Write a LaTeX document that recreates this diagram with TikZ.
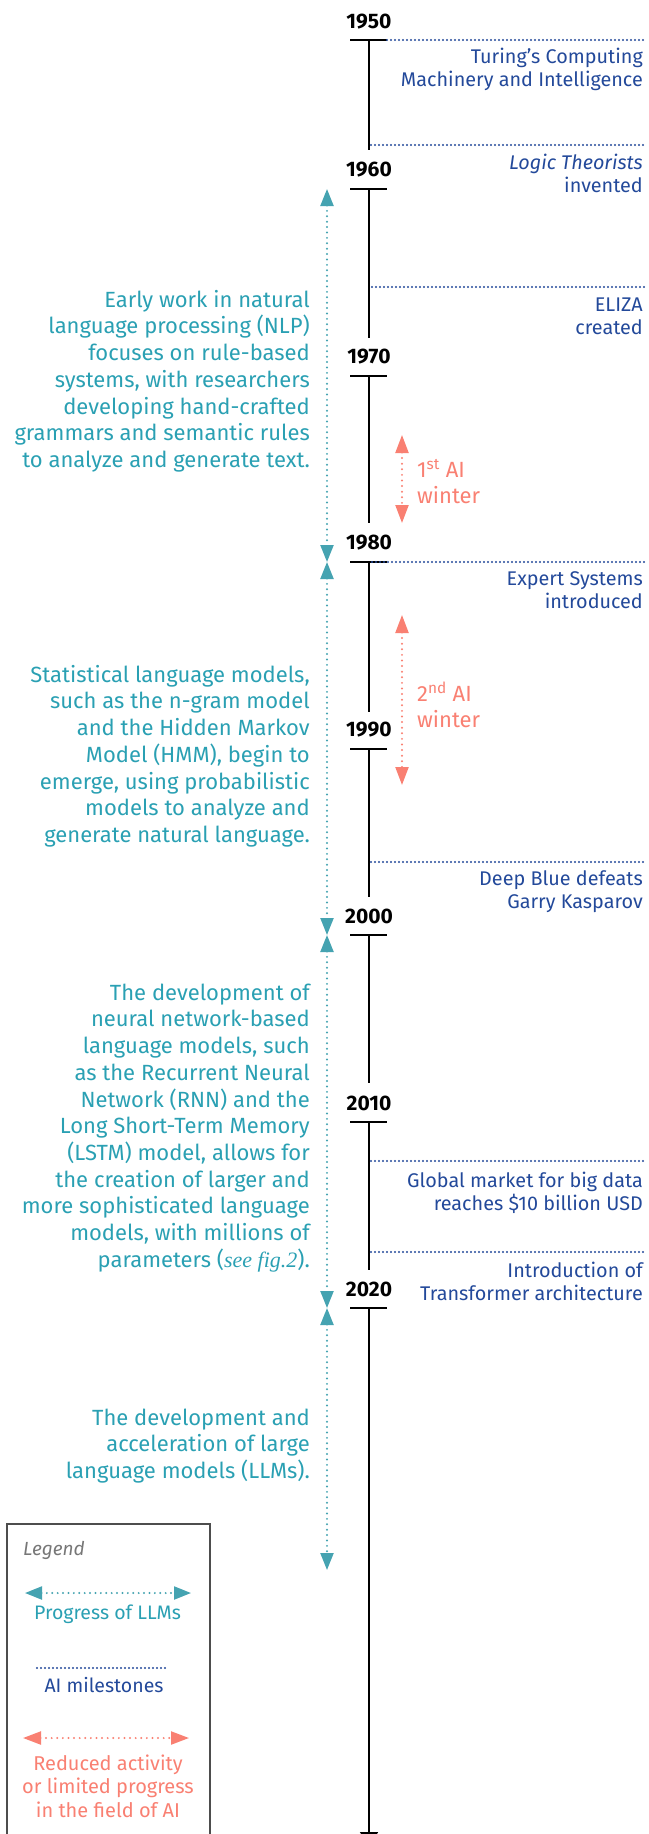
\documentclass[tikz,border=0pt]{standalone}
\usepackage{fontspec}
\setmainfont{Fira Sans}
\newfontfamily\figserif{Liberation Serif}
\usetikzlibrary{arrows.meta}
\definecolor{tealtxt}{HTML}{2AA0B3}
\definecolor{tealarr}{HTML}{45A3B1}
\definecolor{mileblue}{HTML}{23499A}
\definecolor{winterred}{HTML}{F98072}
\definecolor{leggray}{HTML}{777777}
\definecolor{boxgray}{HTML}{4D4D4D}
\begin{document}
\begin{tikzpicture}[x=1pt,y=-1pt,
  yearlbl/.style={font=\fontsize{21}{24}\selectfont\bfseries, inner sep=0pt, anchor=center},
  axisline/.style={line width=1.8pt, draw=black},
  tickline/.style={line width=1.5pt, draw=black},
  milestone/.style={draw=mileblue, line width=2.2pt, line cap=round, dash pattern=on 0pt off 4pt},
  miletxt/.style={text=mileblue, font=\fontsize{19.8}{23.5}\selectfont, align=right, anchor=north east, inner sep=0pt, yshift=16.45pt},
  progress/.style={draw=tealarr, line width=2.2pt, line cap=round, dash pattern=on 0pt off 5.4pt, >={Triangle[length=17pt,width=13pt]}, <->},
  progtxt/.style={text=tealtxt, font=\fontsize{22}{26.7}\selectfont, align=right, anchor=north east, inner sep=0pt, yshift=18.69pt},
  winterarr/.style={draw=winterred, line width=2.2pt, line cap=round, dash pattern=on 0pt off 5.6pt, >={Triangle[length=18pt,width=13pt]}, <->},
  wintertxt/.style={text=winterred, font=\fontsize{22}{26}\selectfont, align=left, anchor=north west, inner sep=0pt, yshift=18.2pt},
  legtxt/.style={font=\fontsize{19.5}{23.5}\selectfont, inner sep=0pt},
]
\useasboundingbox (0,0) rectangle (648,1834);

% ---- year labels and ticks
\foreach \yr/\ty/\cy in {1950/40/22, 1960/189/169.5, 1970/376/357, 1980/562/542.5, 1990/749/730, 2000/935/916, 2010/1122/1103.5, 2020/1308/1289}{
  \node[yearlbl] (y\yr) at (369,\cy) {\yr};
  \coordinate (tl\yr) at (350,\ty);
  \coordinate (tr\yr) at (387,\ty);
  \draw[tickline] (tl\yr) -- (tr\yr);
}

% ---- axis segments
\foreach \a/\b in {40/150, 189/338, 376/523, 562/712, 749/897, 935/1083, 1122/1270}{
  \coordinate (as\a) at (369,\a);
  \coordinate (ae\a) at (369,\b);
  \draw[axisline] (as\a) -- (ae\a);
}
\coordinate (as1308) at (369,1308);
\coordinate (axisend) at (369,1846);
\draw[axisline, -{Triangle[length=14pt,width=18pt]}] (as1308) -- (axisend);

% ---- milestones
\foreach \nm/\x/\yy in {turing/387/40, logic/371/145, eliza/372/287, expert/372/562, deepblue/371/862, bigdata/371/1161, transformer/371/1252}{
  \coordinate (ms\nm) at (\x,\yy);
  \coordinate (me\nm) at (645,\yy);
  \draw[milestone] (ms\nm) -- (me\nm);
}
\node[miletxt] (tturing) at (643,63) {\strut Turing’s Computing\\Machinery and Intelligence};
\node[miletxt] (tlogic) at (643,169) {\strut\itshape Logic Theorists\\invented};
\node[miletxt] (teliza) at (643,311) {\strut ELIZA\\created};
\node[miletxt] (texpert) at (643,585) {\strut Expert Systems\\introduced};
\node[miletxt] (tdeepblue) at (643,885) {\strut Deep Blue defeats\\Garry Kasparov};
\node[miletxt] (tbigdata) at (643,1187) {\strut Global market for big data\\reaches \$10 billion USD};
\node[miletxt] (ttransformer) at (643,1277) {\strut Introduction of\\Transformer architecture};

% ---- progress of LLMs
\coordinate (p1960) at (327,189);
\coordinate (p1980) at (327,562);
\coordinate (p2000) at (327,935);
\coordinate (p2020) at (327,1308);
\coordinate (pend) at (327,1570);
\draw[progress] (p1960) -- (p1980);
\draw[progress] (p1980) -- (p2000);
\draw[progress] (p2000) -- (p2020);
\draw[progress] (p2020) -- (pend);

\node[progtxt] (b1) at (310,307) {\strut Early work in natural\\language processing (NLP)\\focuses on rule-based\\systems, with researchers\\developing hand-crafted\\grammars and semantic rules\\to analyze and generate text.};
\node[progtxt] (b2) at (310,682) {\strut Statistical language models,\\such as the n-gram model\\and the Hidden Markov\\Model (HMM), begin to\\emerge, using probabilistic\\models to analyze and\\generate natural language.};
\node[progtxt] (b3) at (310,1000) {\strut The development of\\neural network-based\\language models, such\\as the Recurrent Neural\\Network (RNN) and the\\Long Short-Term Memory\\(LSTM) model, allows for\\the creation of larger and\\more sophisticated language\\models, with millions of\\parameters ({\figserif\itshape see fig.2}).};
\node[progtxt] (b4) at (310,1425) {\strut The development and\\acceleration of large\\language models (LLMs).};

% ---- AI winters
\coordinate (w1a) at (402,435);
\coordinate (w1b) at (402,523);
\coordinate (w2a) at (402,615);
\coordinate (w2b) at (402,785);
\draw[winterarr] (w1a) -- (w1b);
\draw[winterarr] (w2a) -- (w2b);
\node[wintertxt] (tw1) at (417,477) {\strut 1\textsuperscript{st} AI\\winter};
\node[wintertxt] (tw2) at (417,700) {\strut 2\textsuperscript{nd} AI\\winter};

% ---- legend
\coordinate (legNW) at (7,1524);
\coordinate (legSE) at (210,1852);
\draw[boxgray, line width=1.5pt] (legNW) rectangle (legSE);
\node[legtxt, text=leggray, anchor=base west, font=\fontsize{19}{22}\selectfont\itshape] (legtitle) at (23,1555) {Legend};
\coordinate (lp1) at (25,1593);
\coordinate (lp2) at (191,1593);
\draw[progress] (lp1) -- (lp2);
\node[legtxt, text=tealtxt, anchor=base] (lptxt) at (107.5,1619) {Progress of LLMs};
\coordinate (lm1) at (37,1668);
\coordinate (lm2) at (167,1668);
\draw[milestone] (lm1) -- (lm2);
\node[legtxt, text=mileblue, anchor=base] (lmtxt) at (104,1692) {AI milestones};
\coordinate (lw1) at (23,1738);
\coordinate (lw2) at (189,1738);
\draw[winterarr] (lw1) -- (lw2);
\node[legtxt, text=winterred, align=center, anchor=north, yshift=16.45pt, font=\fontsize{20}{23.5}\selectfont] (lwtxt) at (108,1770) {\strut Reduced activity\\or limited progress\\in the field of AI};
\end{tikzpicture}
\end{document}
